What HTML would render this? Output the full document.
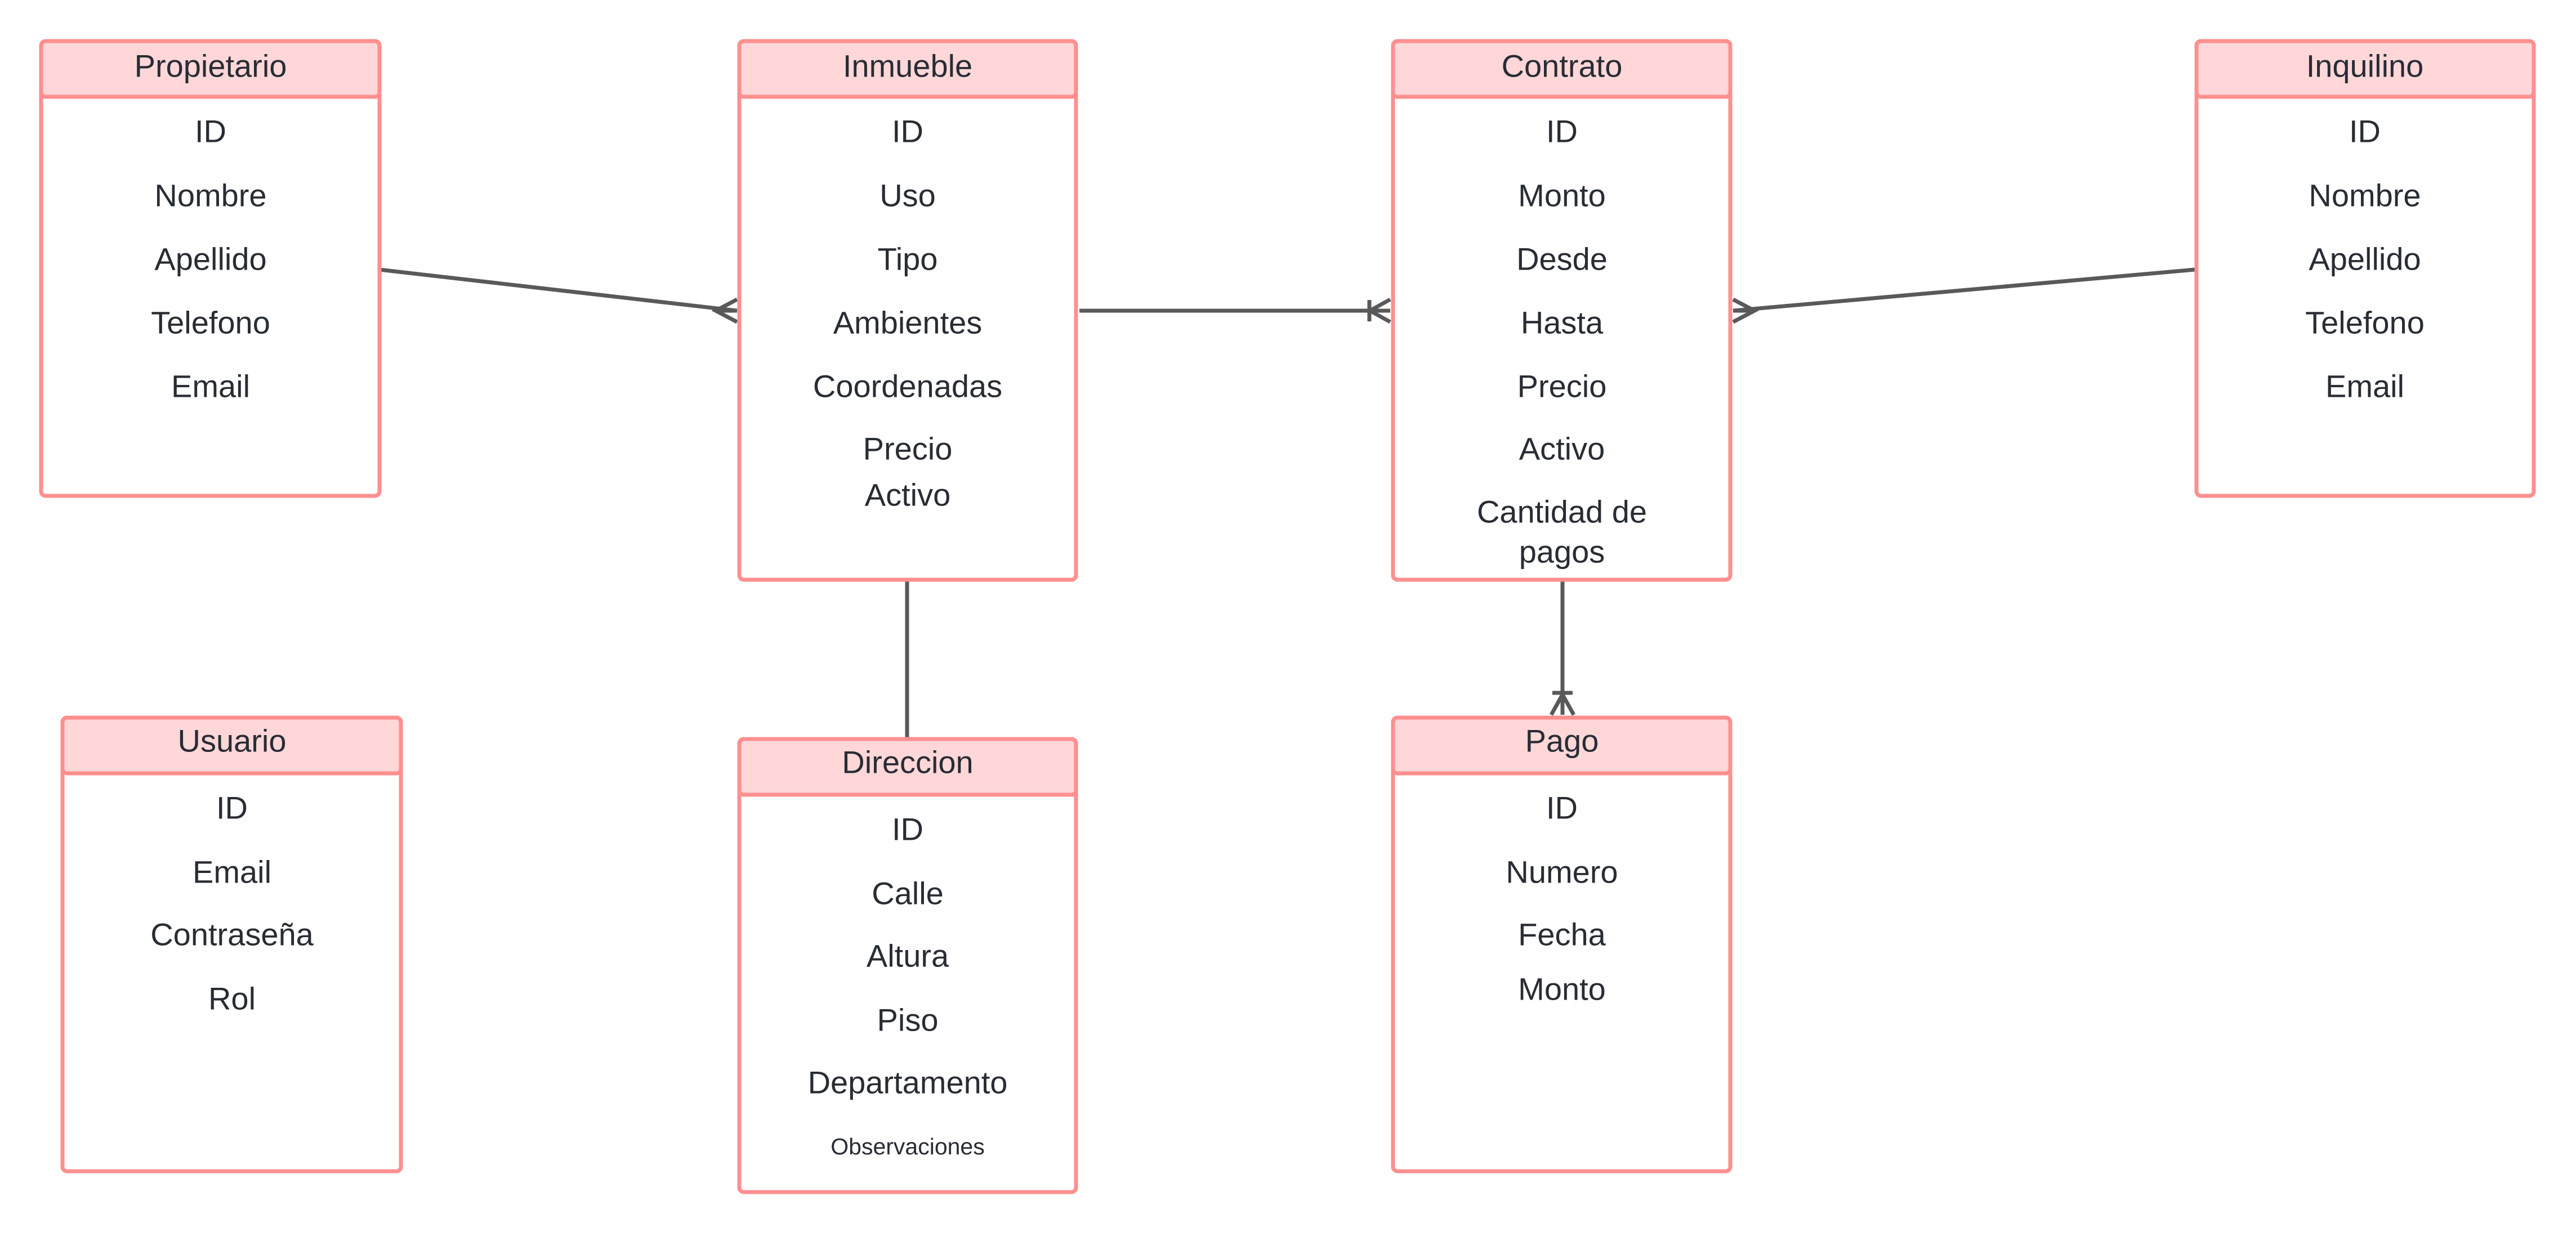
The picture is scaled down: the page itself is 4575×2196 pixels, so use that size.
<!DOCTYPE html>
<html><head><meta charset="utf-8"><style>
html,body{margin:0;padding:0;background:#fff;}
svg{display:block;}
text{font-family:"Liberation Sans",sans-serif;fill:#282c33;text-anchor:middle;dominant-baseline:central;}
</style></head><body>
<svg width="4575" height="2196" viewBox="0 0 4575 2196" xmlns="http://www.w3.org/2000/svg">
<g stroke="#595959" stroke-width="7" fill="none">
  <!-- Propietario -> Inmueble -->
  <line x1="674" y1="479" x2="1309" y2="552"/>
  <polyline points="1309,532 1271,552 1309,572"/>
  <line x1="1271" y1="552" x2="1309" y2="552"/>
  <!-- Inmueble -> Contrato -->
  <line x1="1917" y1="552" x2="2469" y2="552"/>
  <polyline points="2469,532 2433,552 2469,572"/>
  <line x1="2432" y1="533" x2="2432" y2="571"/>
  <!-- Inquilino -> Contrato -->
  <line x1="3898" y1="479" x2="3078" y2="552"/>
  <polyline points="3078,532 3116,552 3078,572"/>
  <line x1="3116" y1="552" x2="3078" y2="552"/>
  <!-- Inmueble -> Direccion -->
  <line x1="1611" y1="1030" x2="1611" y2="1313"/>
  <!-- Contrato -> Pago -->
  <line x1="2775" y1="1030" x2="2775" y2="1270"/>
  <polyline points="2755,1270 2775,1234 2795,1270"/>
  <line x1="2757" y1="1231" x2="2793" y2="1231"/>
</g>
<g stroke="#ff8f8f" stroke-width="7">
  <!-- Propietario -->
  <rect x="73" y="73" width="601" height="808" rx="8" fill="#fff"/>
  <rect x="73" y="73" width="601" height="99" rx="8" fill="#ffd7d9"/>
  <!-- Inmueble -->
  <rect x="1313" y="73" width="598" height="957" rx="8" fill="#fff"/>
  <rect x="1313" y="73" width="598" height="99" rx="8" fill="#ffd7d9"/>
  <!-- Contrato -->
  <rect x="2474" y="73" width="599" height="957" rx="8" fill="#fff"/>
  <rect x="2474" y="73" width="599" height="99" rx="8" fill="#ffd7d9"/>
  <!-- Inquilino -->
  <rect x="3901" y="73" width="599" height="808" rx="8" fill="#fff"/>
  <rect x="3901" y="73" width="599" height="99" rx="8" fill="#ffd7d9"/>
  <!-- Usuario -->
  <rect x="111" y="1275" width="601" height="806" rx="8" fill="#fff"/>
  <rect x="111" y="1275" width="601" height="99" rx="8" fill="#ffd7d9"/>
  <!-- Direccion -->
  <rect x="1313" y="1313" width="598" height="805" rx="8" fill="#fff"/>
  <rect x="1313" y="1313" width="598" height="99" rx="8" fill="#ffd7d9"/>
  <!-- Pago -->
  <rect x="2474" y="1275" width="599" height="806" rx="8" fill="#fff"/>
  <rect x="2474" y="1275" width="599" height="99" rx="8" fill="#ffd7d9"/>
</g>
<g font-size="56">
  <text x="374" y="117">Propietario</text>
  <text x="374" y="233">ID</text><text x="374" y="347">Nombre</text><text x="374" y="460">Apellido</text><text x="374" y="573">Telefono</text><text x="374" y="686">Email</text>

  <text x="1612" y="117">Inmueble</text>
  <text x="1612" y="233">ID</text><text x="1612" y="347">Uso</text><text x="1612" y="460">Tipo</text><text x="1612" y="573">Ambientes</text><text x="1612" y="686">Coordenadas</text><text x="1612" y="797">Precio</text><text x="1612" y="879">Activo</text>

  <text x="2774" y="117">Contrato</text>
  <text x="2774" y="233">ID</text><text x="2774" y="347">Monto</text><text x="2774" y="460">Desde</text><text x="2774" y="573">Hasta</text><text x="2774" y="686">Precio</text><text x="2774" y="797">Activo</text><text x="2774" y="909">Cantidad de</text><text x="2774" y="980">pagos</text>

  <text x="4200" y="117">Inquilino</text>
  <text x="4200" y="233">ID</text><text x="4200" y="347">Nombre</text><text x="4200" y="460">Apellido</text><text x="4200" y="573">Telefono</text><text x="4200" y="686">Email</text>

  <text x="412" y="1316">Usuario</text>
  <text x="412" y="1435">ID</text><text x="412" y="1549">Email</text><text x="412" y="1660">Contraseña</text><text x="412" y="1774">Rol</text>

  <text x="1612" y="1354">Direccion</text>
  <text x="1612" y="1473">ID</text><text x="1612" y="1587">Calle</text><text x="1612" y="1698">Altura</text><text x="1612" y="1812">Piso</text><text x="1612" y="1923">Departamento</text>
  <text x="1612" y="2037" font-size="41">Observaciones</text>

  <text x="2774" y="1316">Pago</text>
  <text x="2774" y="1435">ID</text><text x="2774" y="1549">Numero</text><text x="2774" y="1660">Fecha</text><text x="2774" y="1757">Monto</text>
</g>
</svg>
</body></html>
